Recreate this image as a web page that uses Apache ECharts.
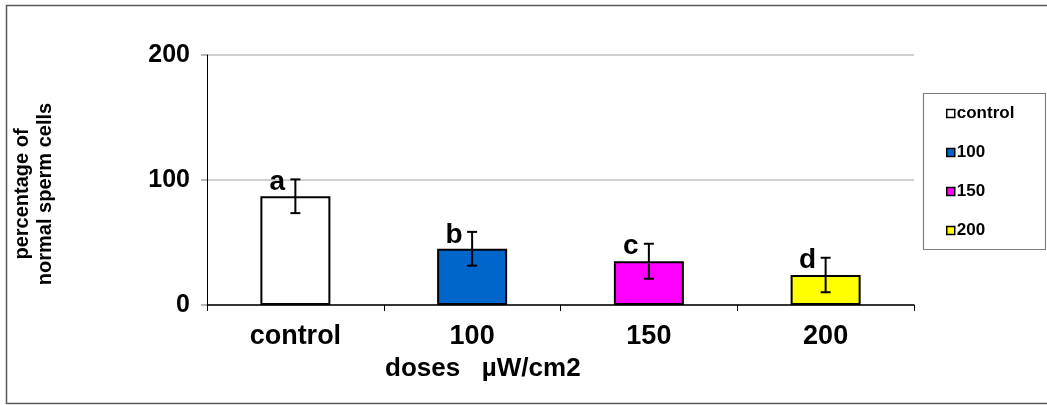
<!DOCTYPE html>
<html>
<head>
<meta charset="utf-8">
<script src="https://cdn.jsdelivr.net/npm/echarts@6/dist/echarts.min.js"></script>
<style>
  html, body { margin: 0; padding: 0; background: #fff; }
  #chart { width: 1047px; height: 405px; }
</style>
</head>
<body>
<div id="chart"></div>
<script>
  let categories = ['control', '100', '150', '200'];
  let means = [87, 45, 35, 24];
  let errors = [13.5, 13.5, 14, 13.8];
  let letters = ['a', 'b', 'c', 'd'];
  let colorList = ['#ffffff', '#0066cc', '#ff00ff', '#ffff00'];
  let yTicks = { min: 0, max: 200, interval: 100 };

  let font = "'Liberation Sans', Arial, sans-serif";
  let myChart = echarts.init(document.getElementById('chart'));

  // one bar series per dose so the legend lists every category
  let barSeries = categories.map(function (name, i) {
    return {
      name: name,
      type: 'bar',
      stack: 'all',
      barWidth: 70,
      data: categories.map(function (c, j) { return j === i ? means[i] : '-'; }),
      itemStyle: { color: colorList[i], borderColor: '#000', borderWidth: 2 },
      z: 2
    };
  });

  // error bars + significance letters
  let errSeries = {
    type: 'custom',
    name: 'err',
    z: 5,
    data: categories.map(function (c, i) { return [i, means[i], errors[i]]; }),
    renderItem: function (params, api) {
      let idx = api.value(0);
      let m = api.value(1);
      let e = api.value(2);
      let top = api.coord([idx, m + e]);
      let bot = api.coord([idx, m - e]);
      let cap = 5;
      let st = { stroke: '#000', lineWidth: 2 };
      return {
        type: 'group',
        children: [
          { type: 'line', shape: { x1: top[0], y1: top[1], x2: bot[0], y2: bot[1] }, style: st },
          { type: 'line', shape: { x1: top[0] - cap, y1: top[1], x2: top[0] + cap, y2: top[1] }, style: st },
          { type: 'line', shape: { x1: bot[0] - cap, y1: bot[1], x2: bot[0] + cap, y2: bot[1] }, style: st },
          {
            type: 'text',
            x: top[0] - 18,
            y: top[1] + 3,
            style: {
              text: letters[params.dataIndex],
              font: 'bold 28px ' + font,
              fill: '#000',
              align: 'center',
              verticalAlign: 'middle'
            }
          }
        ]
      };
    }
  };

  let option = {
    animation: false,
    backgroundColor: '#fff',
    grid: { left: 207, right: 133, top: 55, bottom: 100 },
    legend: {
      data: categories,
      orient: 'vertical',
      left: 946,
      top: 105,
      itemGap: 22,
      itemWidth: 8,
      itemHeight: 8,
      padding: 0,
      icon: 'rect',
      itemStyle: { borderColor: '#000', borderWidth: 1.5 },
      textStyle: { fontFamily: font, fontWeight: 'bold', fontSize: 17, color: '#000', padding: [0, 0, 0, -3] }
    },
    xAxis: {
      type: 'category',
      data: categories,
      axisLine: { lineStyle: { color: '#000', width: 1.5 } },
      axisTick: { show: true, length: 6, lineStyle: { color: '#000', width: 1 } },
      axisLabel: { margin: 18, fontFamily: font, fontWeight: 'bold', fontSize: 27, color: '#000' }
    },
    yAxis: {
      type: 'value',
      min: yTicks.min,
      max: yTicks.max,
      interval: yTicks.interval,
      axisLine: { show: true, lineStyle: { color: '#000', width: 1 } },
      axisTick: { show: true, length: 6, lineStyle: { color: '#a0a0a0', width: 1.5 } },
      axisLabel: { margin: 17, fontFamily: font, fontWeight: 'bold', fontSize: 25, color: '#000' },
      splitLine: { show: true, lineStyle: { color: '#c0c0c0', width: 1.5 } }
    },
    graphic: [
      // outer frame
      { type: 'rect', shape: { x: 6.5, y: 5.5, width: 1100, height: 398 },
        style: { fill: 'none', stroke: '#595959', lineWidth: 1.5 }, silent: true, z: -1 },
      // legend frame
      { type: 'rect', shape: { x: 923.5, y: 93.5, width: 122, height: 156 },
        style: { fill: 'none', stroke: '#808080', lineWidth: 1.2 }, silent: true },
      // y axis title
      { type: 'text', x: 34, y: 194, rotation: Math.PI / 2,
        style: { text: 'percentage of\nnormal sperm cells', font: 'bold 20px ' + font, fill: '#000',
                 align: 'center', verticalAlign: 'middle', lineHeight: 23 } },
      // x axis title
      { type: 'text', x: 385, y: 369,
        style: { text: 'doses   \u00b5W/cm2', font: 'bold 26px ' + font, fill: '#000',
                 align: 'left', verticalAlign: 'middle' } }
    ],
    series: barSeries.concat([errSeries])
  };

  myChart.setOption(option);
</script>
</body>
</html>
